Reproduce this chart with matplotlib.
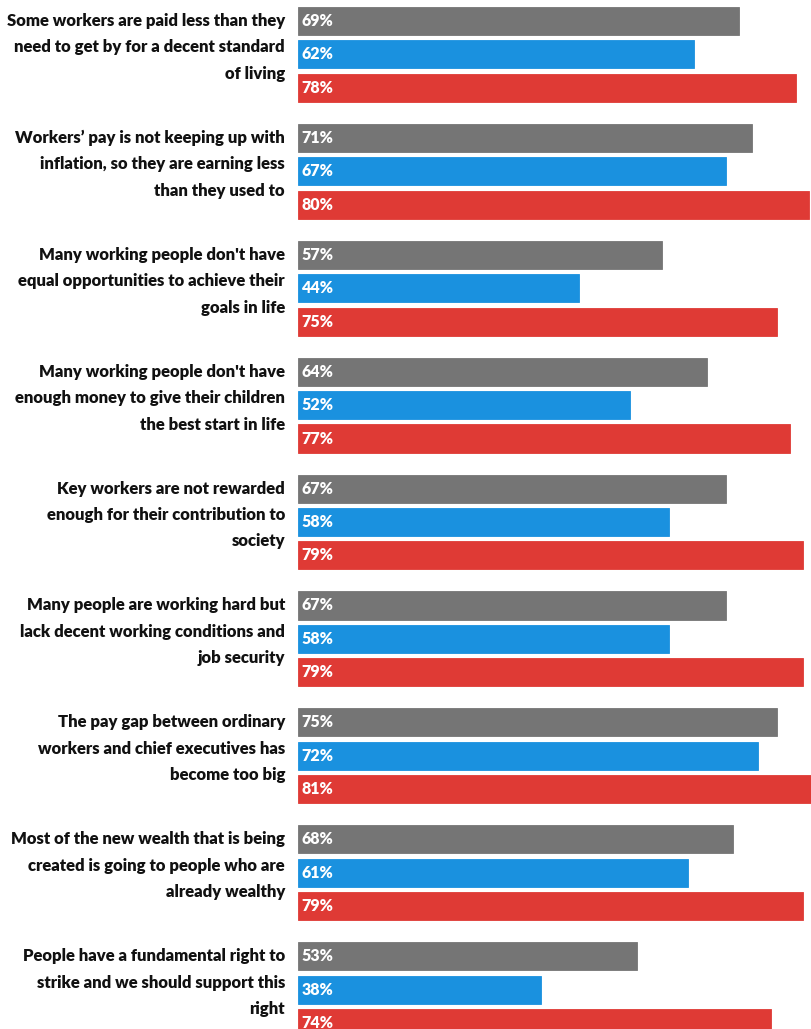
import numpy as np
import matplotlib
matplotlib.use("Agg")
import matplotlib.pyplot as plt
import matplotlib.transforms as mtransforms

plt.rcParams["font.family"] = ["Lato", "DejaVu Sans"]

statements = [
    "Some workers are paid less than they\nneed to get by for a decent standard\nof living",
    "Workers’ pay is not keeping up with\ninflation, so they are earning less\nthan they used to",
    "Many working people don't have\nequal opportunities to achieve their\ngoals in life",
    "Many working people don't have\nenough money to give their children\nthe best start in life",
    "Key workers are not rewarded\nenough for their contribution to\nsociety",
    "Many people are working hard but\nlack decent working conditions and\njob security",
    "The pay gap between ordinary\nworkers and chief executives has\nbecome too big",
    "Most of the new wealth that is being\ncreated is going to people who are\nalready wealthy",
    "People have a fundamental right to\nstrike and we should support this\nright",
]
grey_vals = [69, 71, 57, 64, 67, 67, 75, 68, 53]
blue_vals = [62, 67, 44, 52, 58, 58, 72, 61, 38]
red_vals = [78, 80, 75, 77, 79, 79, 81, 79, 74]

series = [(grey_vals, "#757575"), (blue_vals, "#1a91df"), (red_vals, "#df3a35")]

W, H = 811, 1029
fig = plt.figure(figsize=(W / 100, H / 100), dpi=100)
left_px = 298
ax = fig.add_axes([left_px / W, 0, (W - left_px) / W, 1])

pitch = 33.4          # px per bar slot
top0 = 21             # px centre of first bar
group_gap = 3.5       # slots per group
ax.set_xlim(0, (W - left_px) / 6.391)
ax.set_ylim((H - top0) / pitch, -top0 / pitch)
ax.axis("off")

n = len(statements)
base = np.arange(n) * group_gap
for j, (vals, col) in enumerate(series):
    ys = base + j
    ax.barh(ys, vals, height=0.84, color=col, edgecolor=col, linewidth=0.6)
    for y, v in zip(ys, vals):
        ax.text(0.6, y, f"{v}%", color="white", fontsize=11.5, fontweight="heavy",
                va="center", ha="left")

trans = mtransforms.blended_transform_factory(ax.transAxes, ax.transData)
for y, s in zip(base + 1 - 7 / pitch, statements):
    ax.text(-13 / (W - left_px), y, s, transform=trans, ha="right", va="center",
            multialignment="right", fontsize=12, fontweight="heavy", color="#111111",
            linespacing=1.8, clip_on=False)

fig.savefig("out.png", dpi=100)
